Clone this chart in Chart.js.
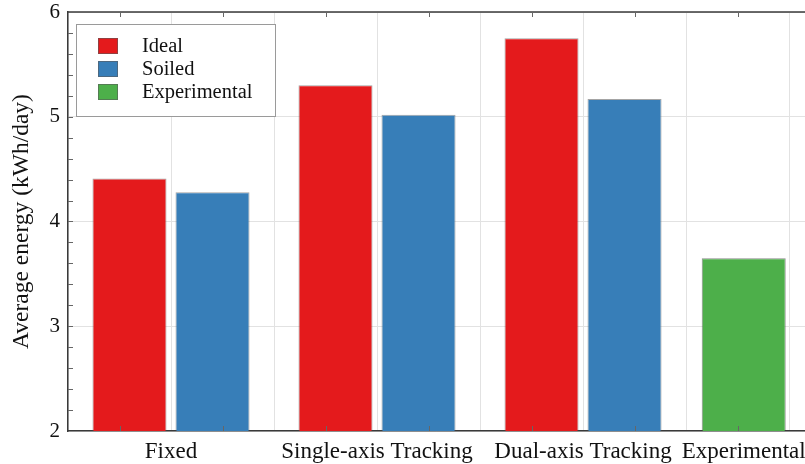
<!DOCTYPE html>
<html>
<head>
<meta charset="utf-8">
<script src="https://cdn.jsdelivr.net/npm/chart.js@4.4.1/dist/chart.umd.min.js"></script>
<style>
    html, body { margin: 0; padding: 0; background: #fff; }
    #wrap { width: 805px; height: 464px; }
</style>
</head>
<body>
<div id="wrap"><canvas id="chartEnergie" width="805" height="464"></canvas></div>
<script>
// Données du graphique
const categories = ['Fixed', 'Single-axis Tracking', 'Dual-axis Tracking', 'Experimental'];
const categoryPositions = [1, 3, 5, 6.56];
const idealValues = [4.41, 5.30, 5.75, null];
const soiledValues = [4.28, 5.02, 5.17, null];
const experimentalValues = [null, null, null, 3.65];
const seriesLabels = ['Ideal', 'Soiled', 'Experimental'];
const seriesColors = ['#e41a1c', '#377eb8', '#4daf4a'];
const yTickValues = [2, 3, 4, 5, 6];
const xGridValues = [0, 1, 2, 3, 4, 5, 6, 7];

const serif = "'Liberation Serif', 'DejaVu Serif', serif";
const axisColor = '#3a3a3a';
const gridColor = '#e2e2e2';

function toPoints(values) {
    return categoryPositions.map((x, i) => ({ x: x, y: values[i] }));
}

// Petites graduations internes + bordure du haut
const frameTicks = {
    id: 'frameTicks',
    afterDraw(chart) {
        const ctx = chart.ctx;
        const area = chart.chartArea;
        const xs = chart.scales.x;
        const ys = chart.scales.y;
        ctx.save();
        ctx.strokeStyle = axisColor;
        ctx.lineWidth = 1.5;
        ctx.beginPath();
        ctx.moveTo(area.left, area.top);
        ctx.lineTo(area.right, area.top);
        ctx.stroke();

        ctx.lineWidth = 1;
        ctx.strokeStyle = '#666';
        ctx.beginPath();
        for (let v = 2.2; v < 6; v += 0.2) {
            const y = Math.round(ys.getPixelForValue(v)) + 0.5;
            ctx.moveTo(area.left, y);
            ctx.lineTo(area.left + 5, y);
        }
        for (let v = 0.5; v < 7.2; v += 1) {
            const x = Math.round(xs.getPixelForValue(v)) + 0.5;
            ctx.moveTo(x, area.bottom);
            ctx.lineTo(x, area.bottom - 5);
            ctx.moveTo(x, area.top);
            ctx.lineTo(x, area.top + 5);
        }
        ctx.stroke();
        ctx.restore();
    }
};

// Légende encadrée dans la zone du graphique
const boxLegend = {
    id: 'boxLegend',
    afterDraw(chart) {
        const ctx = chart.ctx;
        const left = 76, top = 24, width = 199, height = 92;
        ctx.save();
        ctx.fillStyle = '#fff';
        ctx.fillRect(left, top, width, height);
        ctx.strokeStyle = '#9a9a9a';
        ctx.lineWidth = 1;
        ctx.strokeRect(left + 0.5, top + 0.5, width, height);
        ctx.font = '20.5px ' + serif;
        ctx.textBaseline = 'middle';
        chart.data.datasets.forEach((ds, i) => {
            const cy = top + 22 + i * 23;
            ctx.fillStyle = ds.backgroundColor;
            ctx.fillRect(left + 22, cy - 8, 20, 16);
            ctx.strokeStyle = 'rgba(90,90,90,0.6)';
            ctx.strokeRect(left + 22.5, cy - 7.5, 19, 15);
            ctx.fillStyle = '#111';
            ctx.fillText(ds.label, left + 66, cy + 1);
        });
        ctx.restore();
    }
};

const canvas = document.getElementById('chartEnergie');

const chart = new Chart(canvas, {
    type: 'bar',
    data: {
        datasets: [
            {
                label: seriesLabels[0],
                data: toPoints(idealValues),
                backgroundColor: seriesColors[0],
                borderColor: 'rgba(90,90,90,0.55)',
                borderWidth: 1
            },
            {
                label: seriesLabels[1],
                data: toPoints(soiledValues),
                backgroundColor: seriesColors[1],
                borderColor: 'rgba(90,90,90,0.55)',
                borderWidth: 1
            },
            {
                label: seriesLabels[2],
                data: toPoints(experimentalValues),
                backgroundColor: seriesColors[2],
                borderColor: 'rgba(60,60,60,0.6)',
                borderWidth: 1,
                maxBarThickness: 84
            }
        ]
    },
    options: {
        responsive: false,
        animation: false,
        devicePixelRatio: 1,
        skipNull: true,
        categoryPercentage: 1.612,
        barPercentage: 0.892,
        layout: { padding: { top: 12, right: 0, bottom: 0, left: 0 } },
        plugins: {
            legend: { display: false },
            tooltip: { enabled: false }
        },
        scales: {
            x: {
                type: 'linear',
                position: 'bottom',
                min: 0,
                max: 7.155,
                offset: false,
                afterBuildTicks: scale => {
                    scale.ticks = xGridValues.map(v => ({ value: v }));
                },
                afterFit: scale => {
                    scale.height = 0;
                    scale.paddingLeft = 0;
                    scale.paddingRight = 0;
                },
                ticks: { display: false },
                grid: { color: gridColor, drawTicks: false, offset: false },
                border: { display: true, color: axisColor, width: 1.5 }
            },
            xLabels: {
                type: 'linear',
                position: 'bottom',
                min: 0,
                max: 7.155,
                offset: false,
                afterBuildTicks: scale => {
                    scale.ticks = categoryPositions.map(v => ({ value: v }));
                },
                afterFit: scale => {
                    scale.height = 33;
                    scale.paddingLeft = 0;
                    scale.paddingRight = 0;
                },
                ticks: {
                    autoSkip: false,
                    maxRotation: 0,
                    padding: 7,
                    color: '#111',
                    font: { family: serif, size: 23 },
                    callback: value => categories[categoryPositions.indexOf(value)]
                },
                grid: { display: false, drawTicks: false },
                border: { display: false }
            },
            y: {
                min: 2,
                max: 6,
                afterBuildTicks: scale => {
                    scale.ticks = yTickValues.map(v => ({ value: v }));
                },
                afterFit: scale => {
                    scale.width = 68;
                    scale.paddingTop = 0;
                    scale.paddingBottom = 0;
                },
                ticks: {
                    padding: 8,
                    color: '#111',
                    font: { family: serif, size: 21 }
                },
                grid: { color: gridColor, drawTicks: false },
                border: { display: true, color: axisColor, width: 1.5 },
                title: {
                    display: true,
                    text: 'Average energy (kWh/day)',
                    color: '#111',
                    font: { family: serif, size: 23.5 },
                    padding: { top: 8, bottom: 0 }
                }
            }
        }
    },
    plugins: [frameTicks, boxLegend]
});
</script>
</body>
</html>
